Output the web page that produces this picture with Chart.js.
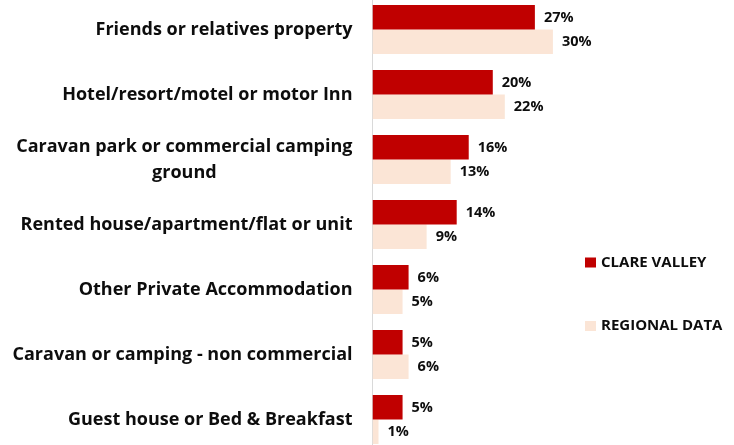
<!DOCTYPE html>
<html lang="en">
<head>
  <meta charset="UTF-8">
  <title>Accommodation type</title>
  <script src="https://cdn.jsdelivr.net/npm/chart.js"></script>
  <style>
    html, body {
      margin: 0;
      padding: 0;
      background: #fff;
      overflow: hidden;
    }

    .chart-wrap {
      position: absolute;
      left: 0;
      top: -3px;
      width: 734px;
      height: 455px;
    }
  </style>
</head>
<body>
  <div class="chart-wrap">
    <canvas id="accomChart"></canvas>
  </div>

  <script>
    const categories = [
      'Friends or relatives property',
      'Hotel/resort/motel or motor Inn',
      ['Caravan park or commercial camping', 'ground'],
      'Rented house/apartment/flat or unit',
      'Other Private Accommodation',
      'Caravan or camping - non commercial',
      'Guest house or Bed & Breakfast'
    ];
    const clareValley = [27, 20, 16, 14, 6, 5, 5];
    const regionalData = [30, 22, 13, 9, 5, 6, 1];
    const seriesNames = ['CLARE VALLEY', 'REGIONAL DATA'];

    const RED = '#C00000';
    const PINK = '#FBE5D6';
    const FONT = '"Open Sans", Lato, sans-serif';

    // category labels drawn by hand so wrapped lines sit centred under each other
    const categoryLabels = {
      id: 'categoryLabels',
      afterDraw(chart) {
        const ctx = chart.ctx;
        const yScale = chart.scales.y;
        const right = chart.chartArea.left - 20;
        const lineH = 26;
        ctx.save();
        ctx.font = 'bold 18px ' + FONT;
        ctx.fillStyle = '#0d0d0d';
        ctx.textBaseline = 'middle';
        ctx.textAlign = 'center';
        categories.forEach((lab, i) => {
          const lines = Array.isArray(lab) ? lab : [lab];
          const w = Math.max(...lines.map(l => ctx.measureText(l).width));
          const cx = right - w / 2;
          const cy = yScale.getPixelForTick(i);
          const y0 = cy - (lines.length - 1) * lineH / 2;
          lines.forEach((l, k) => ctx.fillText(l, cx, y0 + k * lineH));
        });
        ctx.restore();
      }
    };

    // value labels at the end of each bar
    const valueLabels = {
      id: 'valueLabels',
      afterDatasetsDraw(chart) {
        const ctx = chart.ctx;
        ctx.save();
        ctx.font = 'bold 14.5px ' + FONT;
        ctx.fillStyle = '#0d0d0d';
        ctx.textAlign = 'left';
        ctx.textBaseline = 'middle';
        chart.data.datasets.forEach((ds, di) => {
          chart.getDatasetMeta(di).data.forEach((bar, i) => {
            ctx.fillText(ds.data[i] + '%', bar.x + 9, bar.y + 0.5);
          });
        });
        ctx.restore();
      }
    };

    // legend on the right, stacked with wide spacing
    const sideLegend = {
      id: 'sideLegend',
      afterDraw(chart) {
        const ctx = chart.ctx;
        const x = chart.chartArea.right + 2;
        const ys = [265.5, 329];
        ctx.save();
        ctx.font = 'bold 15px ' + FONT;
        ctx.textBaseline = 'middle';
        ctx.textAlign = 'left';
        chart.data.datasets.forEach((ds, di) => {
          ctx.fillStyle = ds.backgroundColor;
          ctx.fillRect(x, ys[di] - 5, 11, 10);
          ctx.fillStyle = '#0d0d0d';
          ctx.fillText(ds.label, x + 16, ys[di]);
        });
        ctx.restore();
      }
    };

    new Chart(document.getElementById('accomChart'), {
      type: 'bar',
      data: {
        labels: categories,
        datasets: [
          {
            label: seriesNames[0],
            data: clareValley,
            backgroundColor: RED,
            categoryPercentage: 0.755,
            barPercentage: 1.0
          },
          {
            label: seriesNames[1],
            data: regionalData,
            backgroundColor: PINK,
            categoryPercentage: 0.755,
            barPercentage: 1.0
          }
        ]
      },
      options: {
        indexAxis: 'y',
        responsive: true,
        maintainAspectRatio: false,
        animation: false,
        layout: { padding: { left: 0, right: 151, top: 0, bottom: 0 } },
        plugins: {
          legend: { display: false },
          tooltip: { enabled: false }
        },
        scales: {
          x: {
            display: false,
            min: 0,
            max: 35
          },
          y: {
            grid: { display: false },
            border: { display: true, color: '#D9D9D9', width: 1 },
            ticks: { display: false },
            afterFit(scale) { scale.width = 372.5; }
          }
        }
      },
      plugins: [categoryLabels, valueLabels, sideLegend]
    });
  </script>
</body>
</html>
